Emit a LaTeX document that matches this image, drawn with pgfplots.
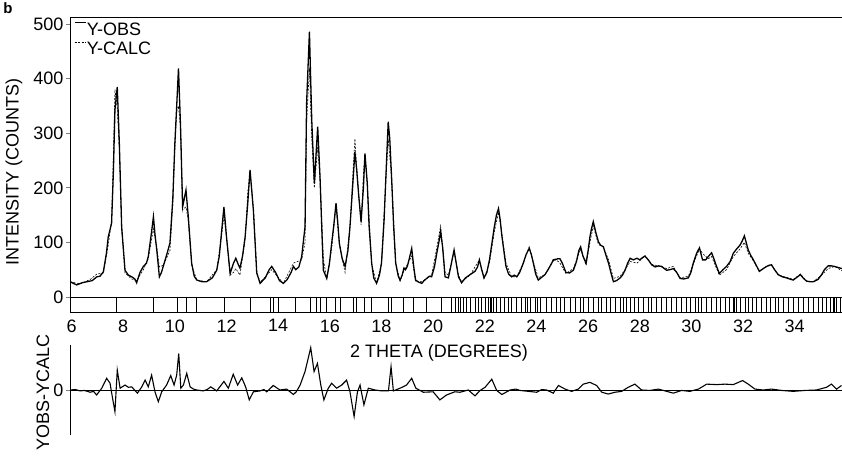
\documentclass[border=0pt]{standalone}
\usepackage{fontspec}
\setmainfont{Liberation Sans}
\usepackage{pgfplots}
\pgfplotsset{compat=1.18}

\newcommand{\lbl}{\fontsize{18}{20}\selectfont}

\pgfplotstableread{
x y
5.94 28
6.2 22
6.4 26
6.6 28
6.8 30
6.98 37
7.1 38
7.23 46
7.35 80
7.42 110
7.55 135
7.62 230
7.68 343
7.77 385
7.85 282
7.94 129
8.07 49
8.2 40
8.33 37
8.45 33
8.52 26
8.65 45
8.78 56
8.9 62
8.97 74
9.1 120
9.17 147
9.23 115
9.3 86
9.4 37
9.48 45
9.55 56
9.7 80
9.81 99
9.92 180
10.0 282
10.07 349
10.14 419
10.22 312
10.3 165
10.43 196
10.52 147
10.65 62
10.75 38
10.85 31
11.05 28
11.23 28
11.45 35
11.62 49
11.72 75
11.79 110
11.9 165
12.0 110
12.14 43
12.27 62
12.36 71
12.45 60
12.52 53
12.62 75
12.72 110
12.82 170
12.91 233
13.04 159
13.17 44
13.3 25
13.5 35
13.65 50
13.75 56
13.9 45
14.05 30
14.2 25
14.35 32
14.5 45
14.59 56
14.68 50
14.8 55
14.91 74
15.04 129
15.1 355
15.21 486
15.3 324
15.40 208
15.53 312
15.62 220
15.7 110
15.75 49
15.88 34
15.98 60
16.07 98
16.15 130
16.24 172
16.3 140
16.37 98
16.48 70
16.59 56
16.7 85
16.78 129
16.88 200
16.97 266
17.04 233
17.12 185
17.21 138
17.3 200
17.36 263
17.45 208
17.52 130
17.62 62
17.7 35
17.81 25
17.92 40
18.0 62
18.1 140
18.17 220
18.26 321
18.32 290
18.39 220
18.47 130
18.55 62
18.65 38
18.72 31
18.8 40
18.87 53
18.93 50
19.0 56
19.1 75
19.17 89
19.25 55
19.32 31
19.45 27
19.56 25
19.65 30
19.75 34
19.85 38
19.94 37
20.05 55
20.14 80
20.22 100
20.29 120
20.37 90
20.46 37
20.59 35
20.7 60
20.81 86
20.9 60
20.98 37
21.1 26
21.25 35
21.43 41
21.62 47
21.72 55
21.79 68
21.88 50
21.97 35
22.08 45
22.18 68
22.28 100
22.37 129
22.45 150
22.53 162
22.6 140
22.65 116
22.75 80
22.82 56
22.92 42
23.04 37
23.14 40
23.24 37
23.35 45
23.49 62
23.6 78
23.72 89
23.8 78
23.88 62
23.97 42
24.07 31
24.2 36
24.33 41
24.45 50
24.59 62
24.65 68
24.72 68
24.82 70
24.91 70
25.0 62
25.14 45
25.28 44
25.43 49
25.55 65
25.64 85
25.71 92
25.8 75
25.92 62
26.0 85
26.07 110
26.13 125
26.2 138
26.3 118
26.4 101
26.48 95
26.59 92
26.7 75
26.79 62
26.88 45
26.98 28
27.1 30
27.24 35
27.33 40
27.43 49
27.53 62
27.63 71
27.75 68
27.89 71
28.0 68
28.1 72
28.2 75
28.33 68
28.46 59
28.6 55
28.72 57
28.85 56
28.95 52
29.04 49
29.17 50
29.3 52
29.43 45
29.56 34
29.7 33
29.88 35
29.98 45
30.07 62
30.2 80
30.31 90
30.43 68
30.55 68
30.65 74
30.78 81
30.87 70
30.95 59
31.08 43
31.22 50
31.36 56
31.5 65
31.62 80
31.75 88
31.88 95
31.96 102
32.05 112
32.12 100
32.2 86
32.3 76
32.4 68
32.52 57
32.63 47
32.78 52
32.91 56
33.0 58
33.1 59
33.22 50
33.36 41
33.52 37
33.68 35
33.8 33
33.94 31
34.08 36
34.22 41
34.34 34
34.46 29
34.6 28
34.72 28
34.9 32
35.04 41
35.15 50
35.29 57
35.42 57
35.54 56
35.68 54
35.83 52
}\obs

\pgfplotstableread{
x y
5.94 28
6.33 24
6.72 32
6.98 42
7.23 44
7.42 95
7.55 140
7.62 260
7.68 380
7.77 345
7.85 270
7.94 125
8.07 44
8.33 33
8.52 30
8.78 50
8.97 70
9.17 125
9.3 90
9.4 55
9.55 58
9.81 85
9.92 170
10.0 272
10.07 340
10.14 350
10.22 310
10.3 160
10.43 165
10.52 140
10.65 58
10.85 31
11.23 28
11.62 50
11.79 105
11.9 150
12.0 108
12.14 40
12.27 45
12.36 52
12.52 40
12.72 105
12.82 190
12.91 230
13.04 162
13.17 46
13.3 27
13.75 50
14.2 25
14.59 62
14.91 68
15.04 100
15.1 320
15.21 420
15.3 290
15.40 200
15.53 275
15.62 215
15.75 70
15.88 32
16.07 88
16.24 168
16.37 95
16.59 45
16.78 130
16.97 290
17.04 236
17.21 132
17.3 225
17.36 262
17.45 205
17.62 60
17.81 25
18.0 62
18.17 215
18.26 290
18.39 220
18.55 62
18.72 29
18.87 48
19.17 75
19.32 28
19.56 28
19.94 40
20.14 90
20.29 130
20.46 45
20.59 40
20.81 84
20.98 40
21.1 28
21.43 40
21.62 55
21.79 68
21.97 34
22.18 62
22.37 120
22.53 155
22.65 120
22.82 62
23.04 37
23.24 37
23.49 62
23.72 92
23.88 64
24.07 35
24.33 41
24.59 62
24.72 70
24.91 62
25.14 43
25.43 52
25.71 88
25.92 58
26.07 100
26.2 130
26.4 96
26.59 92
26.79 68
26.98 34
27.24 38
27.43 50
27.63 65
27.89 62
28.2 75
28.46 60
28.85 55
29.04 52
29.3 56
29.56 35
29.88 38
30.07 60
30.31 88
30.43 80
30.65 70
30.78 74
30.95 55
31.08 40
31.36 50
31.62 74
31.88 88
32.05 100
32.2 80
32.4 66
32.63 47
32.91 56
33.1 58
33.36 40
33.68 36
33.94 32
34.22 42
34.46 29
34.72 28
35.04 40
35.29 52
35.54 56
35.83 48
}\calc

\pgfplotstableread{
x y
5.94 0
6.15 1
6.33 -2
6.5 -1
6.72 -5
6.85 -3
6.97 -11
7.17 4
7.36 26
7.49 15
7.59 -19
7.68 -48
7.77 44
7.88 4
8.07 11
8.2 6
8.33 7
8.55 -7
8.72 7
8.85 22
8.97 7
9.1 33
9.23 -4
9.36 -26
9.49 -4
9.68 11
9.84 32
9.97 11
10.07 33
10.15 81
10.23 4
10.33 11
10.46 37
10.59 7
10.72 2
10.85 0
11.1 -2
11.25 1
11.39 7
11.62 -2
11.9 19
12.07 4
12.26 35
12.43 11
12.59 27
12.74 7
12.88 -22
13.04 -4
13.3 -2
13.45 1
13.56 -4
13.81 10
14.07 0
14.33 2
14.59 -10
14.7 -4
14.85 11
15.04 41
15.26 94
15.39 41
15.52 59
15.65 11
15.77 -22
15.94 4
16.07 15
16.26 4
16.46 11
16.65 22
16.78 -4
16.94 -59
17.07 -4
17.17 11
17.32 -33
17.49 4
17.75 0
18.01 -2
18.27 -2
18.37 52
18.46 -2
18.72 4
18.97 11
19.17 26
19.33 4
19.62 -5
20.0 -4
20.26 -22
20.52 -11
20.84 -4
21.04 -5
21.36 0
21.62 -13
21.82 -1
22.01 6
22.27 24
22.46 -1
22.66 -10
22.98 0
23.2 2
23.36 -1
23.69 -3
24.01 -5
24.2 1
24.39 0
24.65 -7
24.85 10
25.11 2
25.36 -3
25.62 2
25.81 13
26.07 17
26.33 10
26.53 -5
26.78 -9
27.04 -5
27.3 -3
27.55 6
27.81 13
28.07 0
28.39 -1
28.72 2
29.04 -3
29.3 -7
29.62 -1
29.94 -3
30.27 2
30.59 13
30.98 12
31.3 13
31.62 12
31.98 21
32.2 13
32.46 2
32.78 0
33.1 2
33.49 -1
33.94 -3
34.39 -1
34.84 0
35.23 6
35.42 13
35.62 2
35.81 10
}\diff

\begin{document}
\begin{tikzpicture}
\useasboundingbox (0,0) rectangle (842pt,457pt);
\node[font=\fontsize{15}{17}\selectfont\bfseries, inner sep=0] at (8pt,449pt) {b};

\begin{axis}[
  at={(70pt,145pt)}, anchor=south west, scale only axis,
  width=772pt, height=295pt,
  xmin=5.94, xmax=35.83, ymin=-27.5, ymax=513,
  axis x line=bottom, axis y line=left,
  axis line style={-, line width=0.9pt},
  xtick={6,8,...,34}, ytick={0,100,...,500},
  /pgf/number format/assume math mode=true,
  tick label style={font=\lbl},
  xtick style={draw=none},
  ytick style={line width=0.8pt},
  tick align=outside, major tick length=4pt,
  yticklabel style={xshift=1pt},
  ylabel={INTENSITY (COUNTS)},
  ylabel style={font=\lbl, at={(axis description cs:-0.0725,0.475)}, anchor=center},
  xlabel={2 THETA (DEGREES)},
  xlabel style={font=\lbl, at={(axis description cs:0.478,-0.138)}, anchor=center},
  legend style={draw=none, fill=none, at={(axis description cs:0.001,0.99)},
    anchor=north west, font=\lbl, row sep=4pt,
    nodes={inner sep=0.5pt}, cells={anchor=west}},
  legend image code/.code={\draw[#1] (0pt,7pt) -- (11pt,7pt);},
]
\addplot[black, line width=1.3pt] table {\obs};
\addlegendentry{Y-OBS}
\addplot[black, line width=0.6pt, dash pattern=on 2pt off 1.5pt] table {\calc};
\addlegendentry{Y-CALC}
% zero line and top frame line of the upper panel
\addplot[black, line width=0.9pt, forget plot] coordinates {(5.94,0) (35.83,0)};
\addplot[black, line width=1pt, forget plot] coordinates {(5.94,511.5) (35.83,511.5)};
% reflection positions
\addplot[black, line width=0.7pt, quiver={u=0, v=-27.5}, forget plot] coordinates {
(7.72,0)(9.17,0)(10.1,0)(10.43,0)(10.82,0)(11.9,0)(12.91,0)(13.71,0)(13.81,0)
(14.0,0)(14.65,0)(15.23,0)(15.49,0)(15.64,0)(15.88,0)(16.2,0)(16.39,0)(16.91,0)
(17.01,0)(17.32,0)(17.62,0)(18.27,0)(18.4,0)(18.85,0)(19.23,0)(19.75,0)(20.33,0)
(20.72,0)(20.85,0)(20.98,0)(21.07,0)(21.17,0)(21.3,0)(21.45,0)(21.62,0)(21.75,0)
(21.88,0)(22.01,0)(22.14,0)(22.23,0)(22.27,0)(22.33,0)(22.46,0)(22.59,0)(22.74,0)
(22.91,0)(23.04,0)(23.23,0)(23.43,0)(23.56,0)(23.65,0)(23.78,0)(23.94,0)(24.03,0)
(24.14,0)(24.4,0)(24.59,0)(24.78,0)(24.91,0)(25.07,0)(25.3,0)(25.49,0)(25.69,0)
(25.82,0)(26.01,0)(26.2,0)(26.4,0)(26.53,0)(26.72,0)(26.85,0)(27.04,0)(27.24,0)
(27.36,0)(27.47,0)(27.62,0)(27.78,0)(27.95,0)(28.14,0)(28.33,0)(28.46,0)(28.65,0)
(28.85,0)(29.04,0)(29.24,0)(29.43,0)(29.62,0)(29.82,0)(29.95,0)(30.14,0)(30.27,0)
(30.4,0)(30.59,0)(30.78,0)(30.98,0)(31.13,0)(31.3,0)(31.47,0)(31.62,0)(31.68,0)
(31.75,0)(31.91,0)(32.08,0)(32.2,0)(32.37,0)(32.53,0)(32.72,0)(32.91,0)(33.07,0)
(33.24,0)(33.37,0)(33.56,0)(33.75,0)(33.95,0)(34.14,0)(34.33,0)(34.53,0)(34.72,0)
(34.91,0)(35.08,0)(35.24,0)(35.37,0)(35.49,0)(35.55,0)(35.62,0)(35.75,0)
};
\end{axis}

\begin{axis}[
  at={(70pt,22pt)}, anchor=south west, scale only axis,
  width=772pt, height=90pt,
  xmin=5.94, xmax=35.83, ymin=-100, ymax=100,
  axis x line=none, axis y line=left,
  axis line style={-, line width=0.9pt},
  ytick={0},
  /pgf/number format/assume math mode=true,
  tick label style={font=\lbl},
  ytick style={line width=0.8pt},
  tick align=outside, major tick length=4pt,
  yticklabel style={xshift=1pt},
  ylabel={YOBS-YCALC},
  ylabel style={font=\lbl, at={(axis description cs:-0.035,0.467)}, anchor=center},
]
\addplot[black, line width=0.5pt] coordinates {(5.94,0) (35.83,0)};
\addplot[black, line width=1.1pt] table {\diff};
\end{axis}
\end{tikzpicture}
\end{document}
